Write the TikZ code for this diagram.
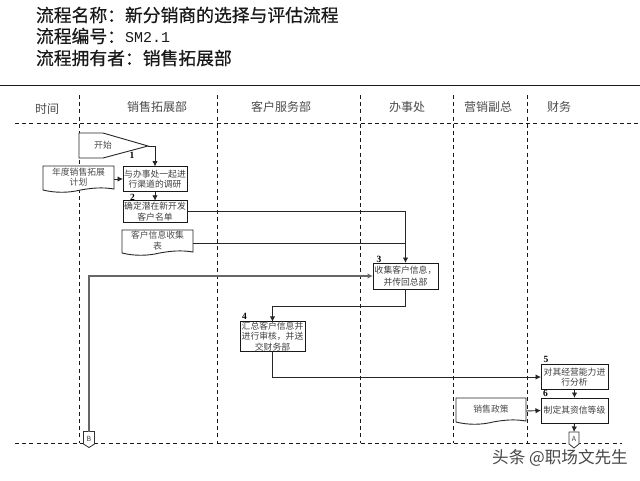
\documentclass[tikz,border=0pt]{standalone}
\usepackage{fontspec}
\setmainfont{Noto Sans CJK SC}
\newfontfamily\titlefont[FakeBold=0.5]{Noto Sans CJK SC}
\newfontfamily\latinnum{Liberation Serif}
\newfontfamily\latinmono{Liberation Mono}
\usetikzlibrary{arrows.meta}
\newcommand{\fwcolon}{\symbol{"FF1A}}
\newcommand{\fwcomma}{\symbol{"FF0C}}
\tikzset{
  every node/.style={inner sep=0pt,outer sep=0pt,text=black!75},
  titletxt/.style={anchor=west,text=black!90,font=\titlefont\fontsize{17.8}{20}\selectfont},
  headtxt/.style={font=\fontsize{12}{14}\selectfont,text=black!70},
  lane/.style={line width=1pt,dash pattern=on 4pt off 3.2pt,black!90},
  procbox/.style={draw=black!90,line width=1pt,fill=white,minimum height=25pt,align=center,
     font=\fontsize{8.8}{10.6}\selectfont},
  doctxt/.style={align=center,font=\fontsize{8.8}{10.6}\selectfont,text=black!70},
  docline/.style={draw=black!85,line width=.9pt,fill=white},
  flow/.style={line width=.9pt,black!85,-{Latex[length=5.5pt,width=5.5pt]}},
  plainflow/.style={line width=.9pt,black!85},
  numtxt/.style={font=\latinnum\fontsize{9.5}{10}\selectfont\bfseries,text=black},
  connshape/.style={draw=black!80,line width=.8pt,fill=white},
}
\begin{document}
\begin{tikzpicture}[x=1pt,y=-1pt]
\useasboundingbox (0,0) rectangle (640,480);
\fill[white] (0,0) rectangle (640,480);
% title
\node[titletxt] (t1) at (36,15) {流程名称\fwcolon 新分销商的选择与评估流程};
\node[titletxt] (t2) at (36,36) {流程编号\fwcolon {\latinmono\fontsize{15}{18}\selectfont SM2.1}};
\node[titletxt] (t3) at (36,58) {流程拥有者\fwcolon 销售拓展部};
\coordinate (topl) at (0,85); \coordinate (topr) at (640,85);
\draw[line width=1pt,black!90] (topl) -- (topr);
% lanes
\foreach \n/\x in {a/79,b/217,c/360,d/453,e/527}{
  \coordinate (\n1) at (\x,95); \coordinate (\n2) at (\x,443);
  \draw[lane] (\n1) -- (\n2);
}
\coordinate (h1a) at (15,123); \coordinate (h1b) at (640,123);
\coordinate (h2a) at (15,443); \coordinate (h2b) at (622,443);
\draw[lane] (h1a) -- (h1b);
\draw[lane] (h2a) -- (h2b);
% headers
\node[headtxt] (h0) at (47,109) {时间};
\node[headtxt] (h1) at (157,107) {销售拓展部};
\node[headtxt] (h2) at (281,107) {客户服务部};
\node[headtxt] (h3) at (407,107) {办事处};
\node[headtxt] (h4) at (488,107) {营销副总};
\node[headtxt] (h5) at (559,107) {财务};
% start
\coordinate (st1) at (79,133); \coordinate (st2) at (103,133);
\coordinate (sttip) at (148,146); \coordinate (st3) at (103,158); \coordinate (st4) at (79,158);
\draw[docline] (st1) -- (st2) -- (sttip) -- (st3) -- (st4) -- cycle;
\node[doctxt] (start) at (103,145) {开始};
% process boxes
\node[procbox,minimum width=64pt] (p1) at (155,179) {与办事处一起进\\行渠道的调研};
\node[procbox,minimum width=64pt,minimum height=21.5pt] (p2) at (155,211.5) {确定潜在新开发\\客户名单};
\node[procbox,minimum width=65pt,minimum height=26pt,font=\fontsize{8.8}{12}\selectfont] (p3) at (405.5,276) {收集客户信息\fwcomma\\并传回总部};
\node[procbox,minimum width=65pt,minimum height=25.5pt] (p4) at (272.5,336.5) {汇总客户信息并\\进行审核\fwcomma 并送\\交财务部};
\node[procbox,minimum width=67pt,minimum height=24.5pt] (p5) at (574.5,377) {对其经营能力进\\行分析};
\node[procbox,minimum width=67pt] (p6) at (574.5,410.5) {制定其资信等级};
% documents
\newcommand{\docshape}[4]{%
  \draw[docline] (#1,#2) -- (#3,#2) -- (#3,#4-3)
    .. controls ({#3-12},{#4-5}) and ({#3-22},{#4-4}) .. ({(#1+#3)/2+2},{#4-2})
    .. controls ({(#1+#3)/2-10},{#4+1}) and ({#1+12},{#4+1}) .. (#1,{#4-2}) -- cycle;}
\docshape{43}{166}{114}{192}
\node[doctxt] (d1) at (78.5,177) {年度销售拓展\\计划};
\coordinate (d1e) at (114,179);
\docshape{122}{230}{193}{255}
\node[doctxt] (d2) at (157.5,240.5) {客户信息收集\\表};
\coordinate (d2e) at (193,243);
\docshape{456}{398}{526}{424}
\node[doctxt] (d3) at (491,409) {销售政策};
\coordinate (d3e) at (526,411);
% connectors A, B
\draw[connshape] (569,432) -- (579,432) -- (579,444) -- (574,448) -- (569,444) -- cycle;
\node[font=\fontsize{7}{8}\selectfont] (A) at (574,439) {A};
\coordinate (Atop) at (574,432);
\draw[connshape] (83.5,431.5) -- (94.5,431.5) -- (94.5,444) -- (89,447.5) -- (83.5,444) -- cycle;
\node[font=\fontsize{7}{8}\selectfont] (B) at (89,438.5) {B};
\coordinate (Btop) at (89,431.5);
% flows
\draw[flow] (sttip) -- (155,146) -- (p1.north);
\draw[flow] (d1e) -- (p1.west);
\draw[flow] (p1.south) -- (p2.north);
\draw[plainflow] (d2e) -- (405.5,243);
\draw[flow] (p2.east) -| (p3.north);
\draw[flow,black!60,line width=1.1pt] (Btop) |- (p3.west);
\draw[flow] (p3.south) -- (405.5,306) -| (p4.north);
\draw[flow] (p4.south) |- (p5.west);
\draw[flow] (p5.south) -- (p6.north);
\draw[flow] (d3e) -- (p6.west);
\draw[flow] (p6.south) -- (Atop);
% numbers
\node[numtxt] (n1) at (132,155) {1};
\node[numtxt] (n2) at (132.5,197) {2};
\node[numtxt] (n3) at (379,259) {3};
\node[numtxt] (n4) at (244.5,316.5) {4};
\node[numtxt] (n5) at (546,359) {5};
\node[numtxt] (n6) at (545.5,393.5) {6};
% watermark
\node[font=\fontsize{16.6}{18}\selectfont,text=black!72] (wm) at (560,458) {头条 @职场文先生};
\end{tikzpicture}
\end{document}
